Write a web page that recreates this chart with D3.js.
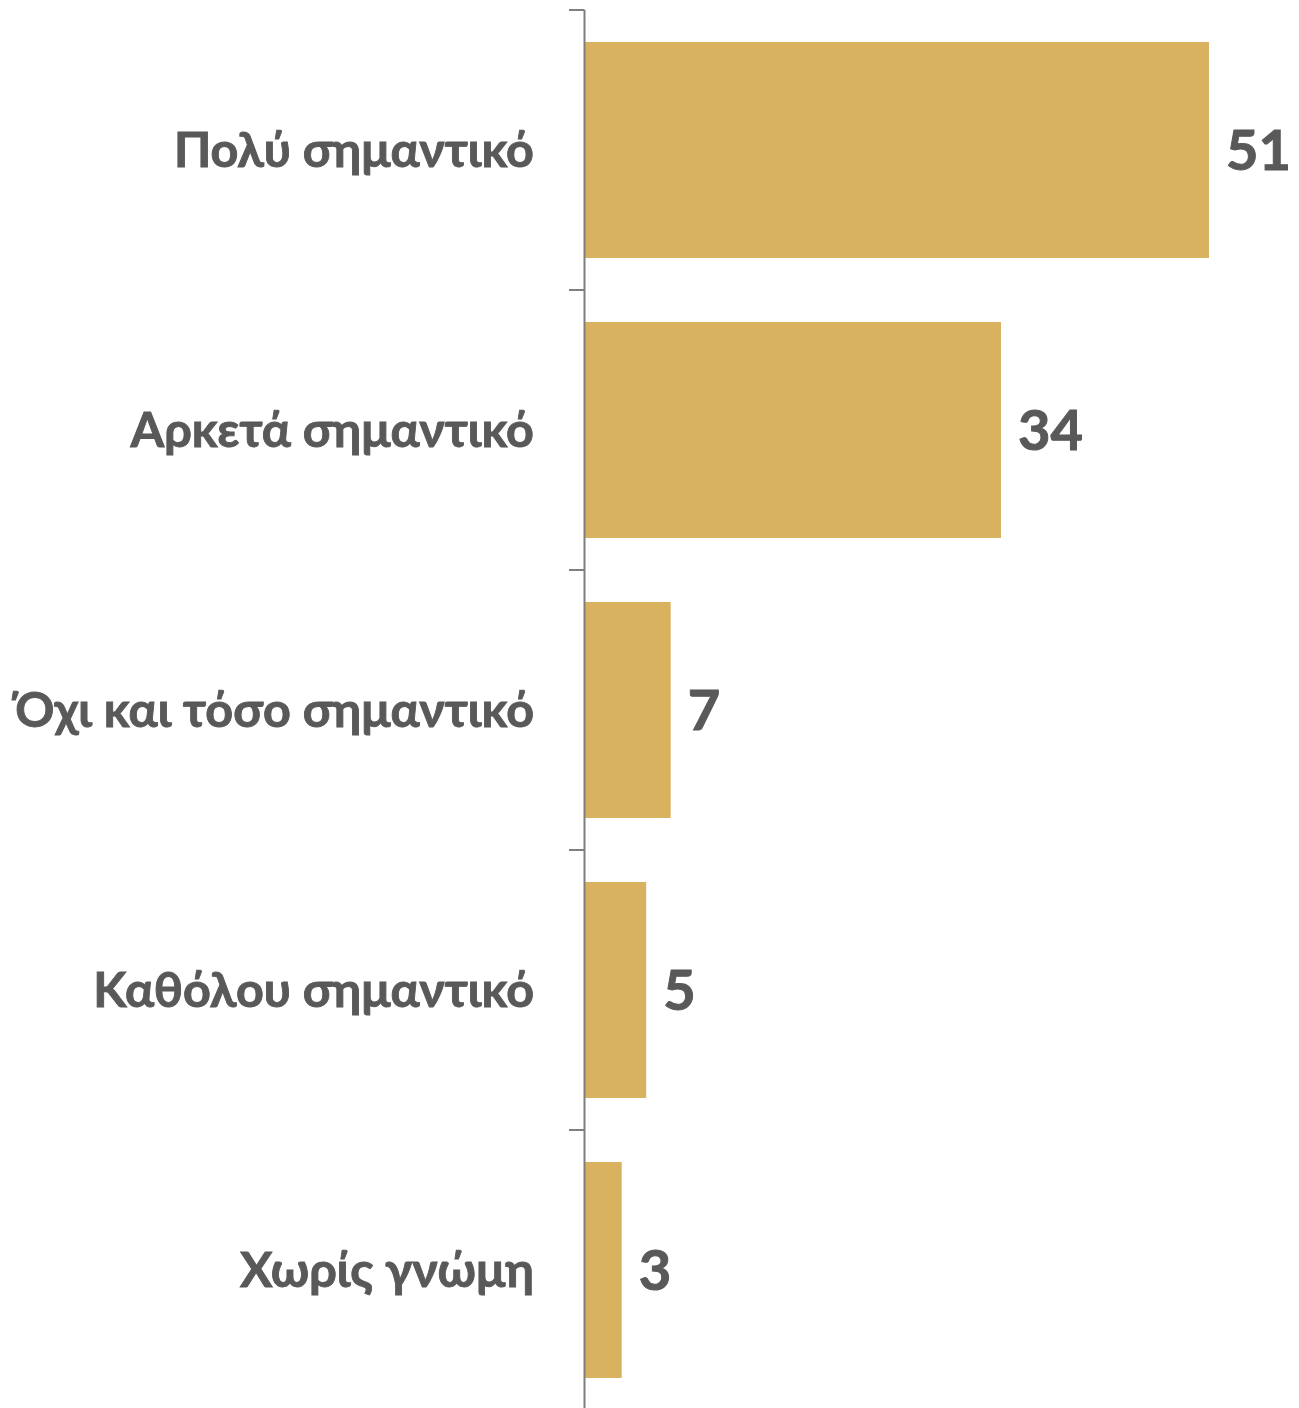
<!DOCTYPE html>
<html><head><meta charset="utf-8">
<script src="https://cdn.jsdelivr.net/npm/d3@7"></script>
<style>body{margin:0;background:#fff}svg{display:block}</style>
</head><body>
<script>
const categories = ["Πολύ σημαντικό","Αρκετά σημαντικό","Όχι και τόσο σημαντικό","Καθόλου σημαντικό","Χωρίς γνώμη"];
const values = [51,34,7,5,3];

const W = 1299, H = 1408;
const svg = d3.select("body").append("svg").attr("width", W).attr("height", H);
const x0 = 585;
const x = d3.scaleLinear().domain([0, 60]).range([x0, x0 + 624/51*60]);
const y = d3.scaleBand().domain(categories).range([10, 1410]).paddingInner(0.2286).paddingOuter(0.1143);
const step = y.step();
const pad = y.paddingOuter() * step;

const font = "Lato, 'Open Sans', sans-serif";

svg.selectAll("rect.bar").data(categories).join("rect")
  .attr("x", x(0)).attr("y", d => y(d))
  .attr("width", (d,i) => x(values[i]) - x(0))
  .attr("height", y.bandwidth())
  .attr("fill", "#D9B25F");

// axis
svg.append("line").attr("x1", x0-0.5).attr("x2", x0-0.5).attr("y1", 10).attr("y2", H)
  .attr("stroke", "#7f7f7f").attr("stroke-width", 2);
const tickYs = categories.map(c => y(c) - pad);
svg.selectAll("line.tick").data(tickYs).join("line")
  .attr("x1", x0-16).attr("x2", x0-0.5).attr("y1", d => d).attr("y2", d => d)
  .attr("stroke", "#7f7f7f").attr("stroke-width", 2);

svg.selectAll("text.cat").data(categories).join("text")
  .attr("x", 534).attr("y", d => y(d) + y.bandwidth()/2)
  .attr("dy", "0.35em").attr("text-anchor", "end")
  .attr("font-family", font).attr("font-weight", 700).attr("font-size", 48.5)
  .attr("fill", "#595959").attr("stroke", "#595959").attr("stroke-width", 0.9)
  .text(d => d);

svg.selectAll("text.val").data(categories).join("text")
  .attr("x", (d,i) => x(values[i]) + 17).attr("y", d => y(d) + y.bandwidth()/2)
  .attr("dy", "0.35em")
  .attr("font-family", font).attr("font-weight", 700).attr("font-size", 56)
  .attr("fill", "#595959").attr("stroke", "#595959").attr("stroke-width", 1)
  .text((d,i) => values[i]);
</script>
</body></html>
